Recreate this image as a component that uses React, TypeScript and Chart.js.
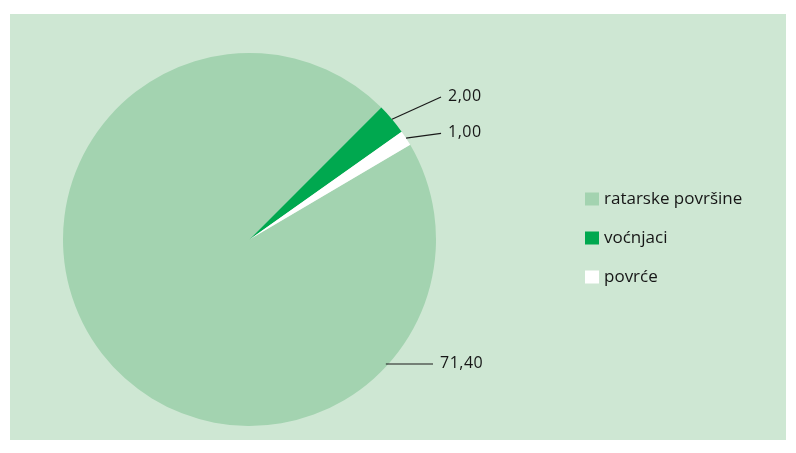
import React, { useEffect, useRef } from "react";
import { Chart, registerables } from "chart.js";

Chart.register(...registerables);

const categories = ["ratarske površine", "voćnjaci", "povrće"];
const values = [71.4, 2.0, 1.0];
const valueLabels = ["71,40", "2,00", "1,00"];
const colors = ["#a3d3b0", "#00a84f", "#ffffff"];

const BG = "#cee7d3";
const TEXT = "#161616";

const leaderLabels = {
  id: "leaderLabels",
  afterDatasetsDraw(chart: any, _args: any, opts: any) {
    const meta = chart.getDatasetMeta(0);
    const ctx = chart.ctx as CanvasRenderingContext2D;
    ctx.save();
    ctx.strokeStyle = "#1a1a1a";
    ctx.lineWidth = 1.2;
    ctx.fillStyle = TEXT;
    ctx.font = "500 16px 'Open Sans'";
    (ctx as any).letterSpacing = "0.5px";
    ctx.textBaseline = "middle";
    ctx.textAlign = "left";
    meta.data.forEach((arc: any, i: number) => {
      const p = arc.getProps(["x", "y", "startAngle", "endAngle", "outerRadius"], true);
      const cfg = opts.items[i];
      const a =
        cfg.angle !== undefined ? (cfg.angle * Math.PI) / 180 : (p.startAngle + p.endAngle) / 2;
      const r = p.outerRadius;
      const sx = p.x + Math.cos(a) * r * cfg.r0;
      const sy = p.y + Math.sin(a) * r * cfg.r0;
      const ex = p.x + cfg.dx * r;
      const ey = cfg.dy !== undefined ? p.y + cfg.dy * r : sy;
      ctx.beginPath();
      ctx.moveTo(sx, sy);
      ctx.lineTo(ex, ey);
      ctx.stroke();
      ctx.fillText(valueLabels[i], ex + 7, ey - 1);
    });
    ctx.restore();
  },
};

const sideLegend = {
  id: "sideLegend",
  afterDraw(chart: any, _args: any, opts: any) {
    const ctx = chart.ctx as CanvasRenderingContext2D;
    const ds = chart.data.datasets[0];
    ctx.save();
    ctx.font = "500 17px 'Open Sans'";
    ctx.textBaseline = "middle";
    ctx.textAlign = "left";
    chart.data.labels.forEach((lab: string, i: number) => {
      const cy = opts.y + i * opts.gap;
      ctx.fillStyle = ds.backgroundColor[i];
      ctx.fillRect(opts.x, cy - opts.boxH / 2, opts.boxW, opts.boxH);
      ctx.fillStyle = TEXT;
      ctx.fillText(lab, opts.x + opts.boxW + 5, cy);
    });
    ctx.restore();
  },
};

export default function App() {
  const ref = useRef<HTMLCanvasElement | null>(null);
  useEffect(() => {
    if (!ref.current) return;
    const chart = new Chart(ref.current, {
      type: "pie",
      data: {
        labels: categories,
        datasets: [
          {
            data: values,
            backgroundColor: colors,
            borderWidth: 0,
          },
        ],
      },
      options: {
        animation: false,
        responsive: false,
        rotation: 59.5,
        layout: { padding: { left: 53, top: 39, right: 350, bottom: 14 } },
        plugins: {
          legend: { display: false },
          tooltip: { enabled: false },
          leaderLabels: {
            items: [
              { angle: 42.4, r0: 0.99, dx: 0.984 },
              { r0: 1.0, dx: 1.027, dy: -0.764 },
              { r0: 1.0, dx: 1.027, dy: -0.569 },
            ],
          },
          sideLegend: { x: 575, y: 185, gap: 39, boxW: 14, boxH: 13 },
        } as any,
      },
      plugins: [leaderLabels, sideLegend],
    });
    return () => chart.destroy();
  }, []);
  return (
    <div style={{ paddingLeft: 2, paddingTop: 6 }}>
      <div style={{ width: 776, height: 426, background: BG }}>
        <canvas ref={ref} width={776} height={426} style={{ width: 776, height: 426, display: "block" }} />
      </div>
    </div>
  );
}
